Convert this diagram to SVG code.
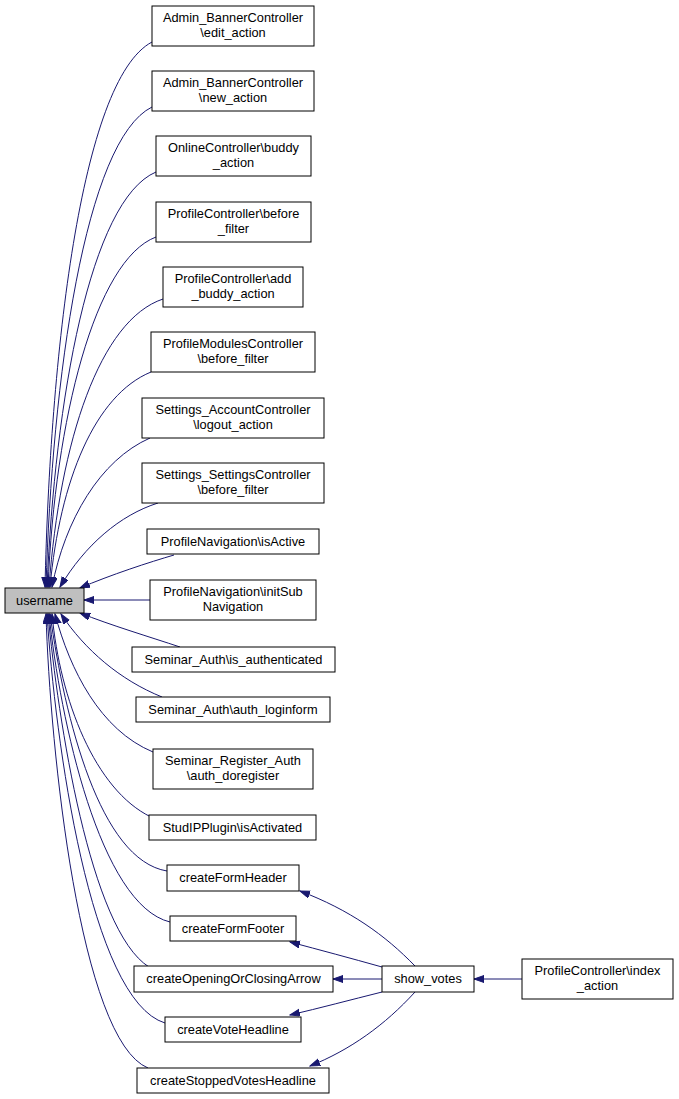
<svg xmlns="http://www.w3.org/2000/svg" width="679" height="1099" viewBox="0 0 679 1099">
<style>
.n rect{fill:#fff;stroke:#000;stroke-width:1}
.root rect{fill:#bfbfbf;stroke:#000;stroke-width:1}
text{font-family:"Liberation Sans",Arial,sans-serif;font-size:12.8px;text-anchor:middle;fill:#000}
.e path{fill:none;stroke:#191970;stroke-width:1;marker-end:url(#ah)}
</style>
<defs>
<marker id="ah" markerUnits="userSpaceOnUse" markerWidth="11" markerHeight="8" refX="10" refY="3.5" orient="auto">
<path d="M0,0 L10,3.5 L0,7 z" fill="#191970" stroke="#191970" stroke-width="1"/>
</marker>
</defs>
<rect width="679" height="1099" fill="#fff"/>
<g id="connectors" class="e">
<path d="M152,42 C80,80 50,360 45,587"/>
<path d="M152,107 C85,140 52,380 46,587"/>
<path d="M156,172 C90,200 55,400 47,587"/>
<path d="M156,237 C95,260 55,420 48,587"/>
<path d="M163,299 C100,320 60,440 49,587"/>
<path d="M151,372 C95,395 60,480 50,587"/>
<path d="M150,438 C100,460 65,520 52,587"/>
<path d="M158,503 C120,515 85,545 60,587"/>
<path d="M174,555 C150,562 110,575 80,588"/>
<path d="M150,600 L84,600"/>
<path d="M180,647 C150,637 110,625 80,613"/>
<path d="M162,697 C120,680 85,650 61,614"/>
<path d="M153,752 C100,730 70,670 55,614"/>
<path d="M151,817 C95,790 60,700 52,614"/>
<path d="M167,871 C100,860 65,720 50,614"/>
<path d="M170,922 C100,905 60,720 49,614"/>
<path d="M149,967 C90,930 58,720 48,614"/>
<path d="M165,1023 C90,1000 55,740 47,614"/>
<path d="M148,1068 C80,1040 50,750 46,614"/>
<path d="M415,966 C385,935 350,910 300,891"/>
<path d="M382,967 C350,958 320,950 290,942"/>
<path d="M382,979 L333,979"/>
<path d="M382,992 C350,1000 320,1008 290,1015"/>
<path d="M415,992 C385,1025 350,1050 310,1066"/>
<path d="M522,979 L474,979"/>
</g>
<g id="n_edit" class="n"><rect x="152" y="6" width="162" height="40"/><text x="233" y="22">Admin_BannerController</text><text x="233" y="37">\edit_action</text></g>
<g id="n_new" class="n"><rect x="152" y="71" width="162" height="40"/><text x="233" y="87">Admin_BannerController</text><text x="233" y="102">\new_action</text></g>
<g id="n_buddy" class="n"><rect x="156" y="136" width="155" height="40"/><text x="233.5" y="152">OnlineController\buddy</text><text x="233.5" y="167">_action</text></g>
<g id="n_pbf" class="n"><rect x="156" y="202" width="155" height="40"/><text x="233.5" y="218">ProfileController\before</text><text x="233.5" y="233">_filter</text></g>
<g id="n_addbuddy" class="n"><rect x="163" y="267" width="140" height="40"/><text x="233" y="283">ProfileController\add</text><text x="233" y="298">_buddy_action</text></g>
<g id="n_pmbf" class="n"><rect x="151" y="332" width="164" height="40"/><text x="233" y="348">ProfileModulesController</text><text x="233" y="363">\before_filter</text></g>
<g id="n_logout" class="n"><rect x="142" y="398" width="182" height="40"/><text x="233" y="414">Settings_AccountController</text><text x="233" y="429">\logout_action</text></g>
<g id="n_ssbf" class="n"><rect x="142" y="463" width="182" height="40"/><text x="233" y="479">Settings_SettingsController</text><text x="233" y="494">\before_filter</text></g>
<g id="n_isActive" class="n"><rect x="147" y="529" width="172" height="25"/><text x="233" y="546">ProfileNavigation\isActive</text></g>
<g id="n_username" class="root"><rect x="5" y="588" width="79" height="25"/><text x="44.5" y="605">username</text></g>
<g id="n_initSub" class="n"><rect x="150" y="580" width="166" height="40"/><text x="233" y="596">ProfileNavigation\initSub</text><text x="233" y="611">Navigation</text></g>
<g id="n_isauth" class="n"><rect x="132" y="647" width="203" height="25"/><text x="233.5" y="664">Seminar_Auth\is_authenticated</text></g>
<g id="n_loginform" class="n"><rect x="136" y="697" width="194" height="25"/><text x="233" y="714">Seminar_Auth\auth_loginform</text></g>
<g id="n_doreg" class="n"><rect x="153" y="749" width="160" height="40"/><text x="233" y="765">Seminar_Register_Auth</text><text x="233" y="780">\auth_doregister</text></g>
<g id="n_studip" class="n"><rect x="149" y="815" width="167" height="25"/><text x="232.5" y="832">StudIPPlugin\isActivated</text></g>
<g id="n_cfh" class="n"><rect x="167" y="865" width="132" height="26"/><text x="233" y="882">createFormHeader</text></g>
<g id="n_cff" class="n"><rect x="170" y="916" width="126" height="25"/><text x="233" y="933">createFormFooter</text></g>
<g id="n_cooca" class="n"><rect x="134" y="966" width="199" height="26"/><text x="233.5" y="983">createOpeningOrClosingArrow</text></g>
<g id="n_cvh" class="n"><rect x="165" y="1017" width="136" height="25"/><text x="233" y="1034">createVoteHeadline</text></g>
<g id="n_csvh" class="n"><rect x="137" y="1068" width="192" height="25"/><text x="233" y="1085">createStoppedVotesHeadline</text></g>
<g id="n_show_votes" class="n"><rect x="382" y="966" width="92" height="26"/><text x="428" y="983">show_votes</text></g>
<g id="n_index" class="n"><rect x="522" y="959" width="151" height="40"/><text x="597.5" y="975">ProfileController\index</text><text x="597.5" y="990">_action</text></g>
</svg>
